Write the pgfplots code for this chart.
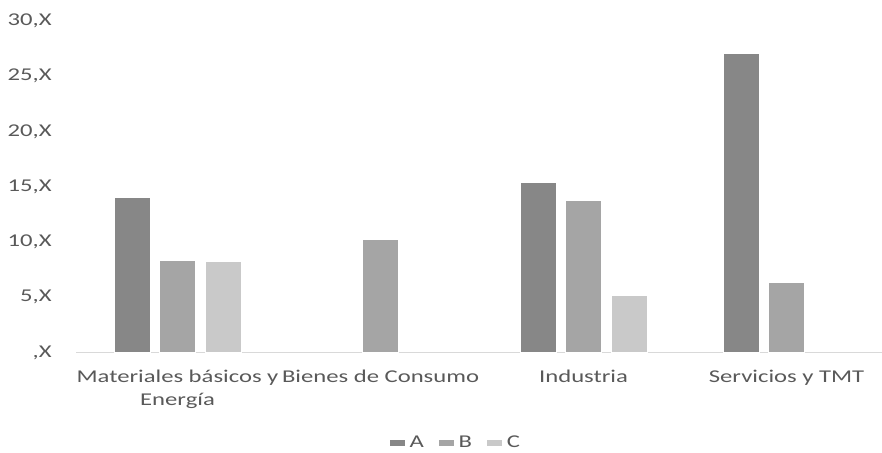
\documentclass[border=0pt]{standalone}
\usepackage{pgfplots}
\pgfplotsset{compat=1.18}
\usepackage{fontspec}
\setmainfont{Carlito}[FakeStretch=1.37]
\definecolor{cA}{HTML}{878787}
\definecolor{cB}{HTML}{A5A5A5}
\definecolor{cC}{HTML}{C9C9C9}
\definecolor{txt}{HTML}{595959}
\definecolor{axl}{HTML}{D9D9D9}
\pgfplotsset{
  sqleg/.style={legend image code/.code={\path[##1] (0pt,-1.75pt) rectangle (8pt,1.75pt);}}
}
\begin{document}
\fontsize{9}{11}\selectfont
\begin{tikzpicture}
\path[use as bounding box] (0,0) rectangle (441pt,226pt);
\begin{axis}[
  at={(38pt,49.75pt)}, anchor=south west,
  scale only axis, width=403pt, height=165.75pt,
  xmin=-0.5, xmax=3.47, ymin=0, ymax=30,
  ybar=4.75pt, bar width=18pt,
  axis x line*=bottom, axis y line*=left,
  y axis line style={draw=none},
  x axis line style={axl, line width=0.8pt},
  major tick length=0pt,
  ytick={0,5,10,15,20,25,30},
  yticklabels={{,X},{5,X},{10,X},{15,X},{20,X},{25,X},{30,X}},
  xtick={0,1,2,3},
  xticklabels={{Materiales básicos y\\Energía},{Bienes de Consumo},{Industria},{Servicios y TMT}},
  tick label style={text=txt, font=\fontsize{9}{11.5}\selectfont},
  xticklabel style={align=center, yshift=-5.5pt},
  yticklabel style={xshift=-9pt},
  legend style={draw=none, fill=none, legend columns=-1, at={(0.472,-0.273)}, anchor=center,
    font=\fontsize{9}{11}\selectfont, text=txt,
    /tikz/every even column/.append style={column sep=5pt}},
]
\addplot[fill=cA, draw=white, line width=0.4pt, sqleg] coordinates {(0,14.05) (2,15.37) (3,27.08)};
\addplot[fill=cB, draw=white, line width=0.4pt, sqleg] coordinates {(0,8.37) (1,10.25) (2,13.74) (3,6.32)};
\addplot[fill=cC, draw=white, line width=0.4pt, sqleg] coordinates {(0,8.22) (2,5.14)};
\legend{A,B,C}
\end{axis}
\end{tikzpicture}
\end{document}
